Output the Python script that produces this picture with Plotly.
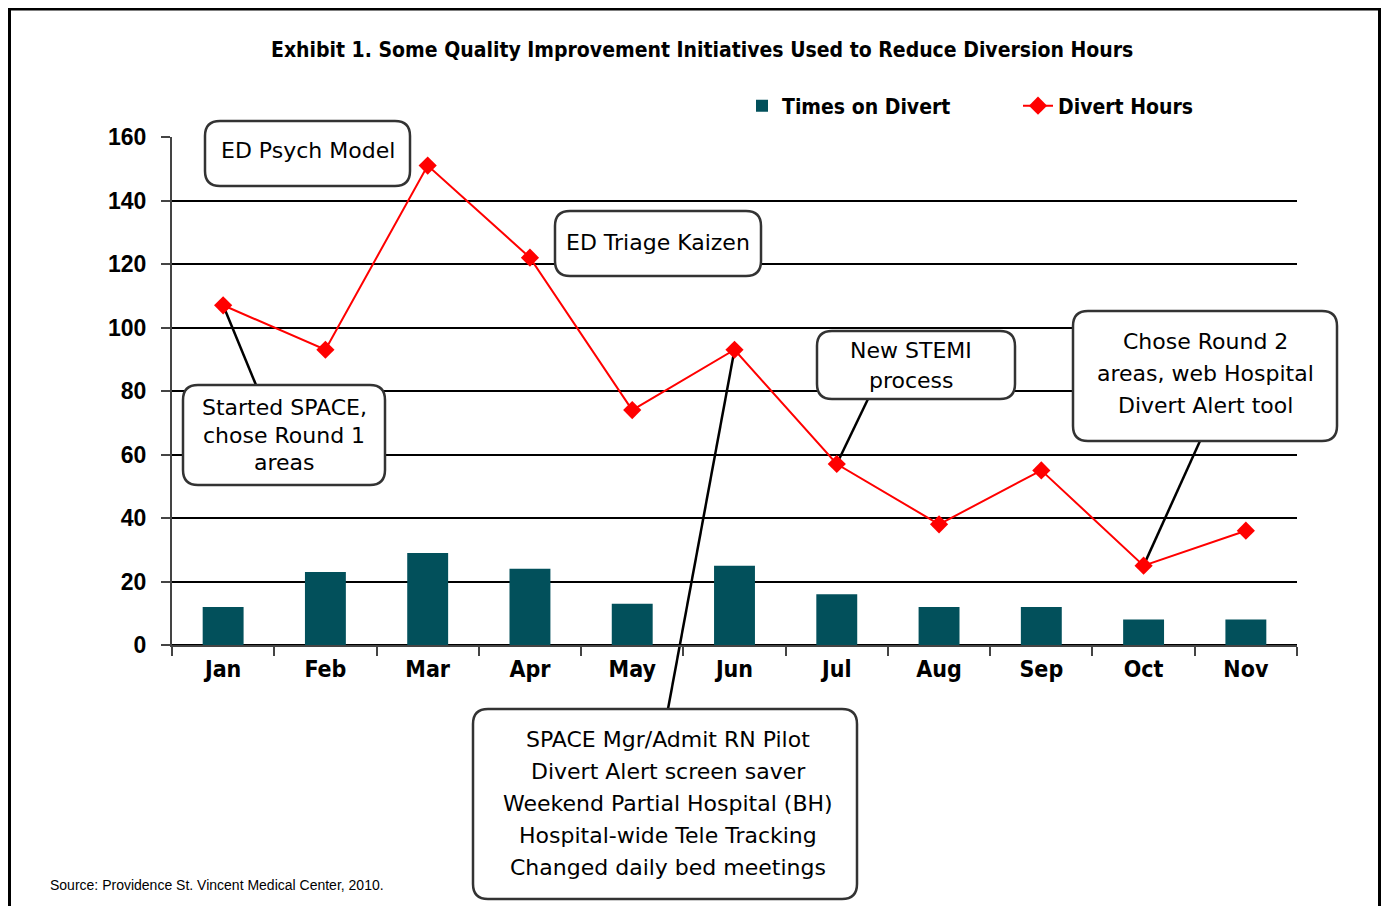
import plotly.graph_objects as go

months = ["Jan", "Feb", "Mar", "Apr", "May", "Jun", "Jul", "Aug", "Sep", "Oct", "Nov"]
times_on_divert = [12, 23, 29, 24, 13, 25, 16, 12, 12, 8, 8]
divert_hours = [107, 93, 151, 122, 74, 93, 57, 38, 55, 25, 36]
y_ticks = [0, 20, 40, 60, 80, 100, 120, 140, 160]

title_text = "Exhibit 1. Some Quality Improvement Initiatives Used to Reduce Diversion Hours"
source_text = "Source: Providence St. Vincent Medical Center, 2010."

OFF = 8  # default page margin of the html body
W, H = 1390 - 2 * OFF, 914 - 2 * OFF
L, R, T, B = 172, 1297, 137, 645  # screen pixel positions of plot area
YMAX = 160
COND = "DejaVu Sans Condensed"


def px(x):
    return (x - L) / (R - L)


def py(y):
    return (B - y) / (B - T)


def data_pt(i, v):
    return (i + 0.5) / len(months), v / YMAX


callouts = [
    (["ED Psych Model"], (205, 121, 410, 186), 308, [151], None, None),
    (["ED Triage Kaizen"], (555, 211, 761, 276), 658, [242], None, None),
    (["Started SPACE,", "chose Round 1", "areas"], (183, 385, 385, 485), 284, [407, 435, 462], 0, (256, 385)),
    (["New STEMI", "process"], (817, 331, 1015, 399), 911, [350, 380], 6, (868, 399)),
    (["Chose Round 2", "areas, web Hospital", "Divert Alert tool"], (1073, 311, 1337, 441), 1205, [341, 373, 405], 9, (1200, 441)),
    (["SPACE Mgr/Admit RN Pilot", "Divert Alert screen saver", "Weekend Partial Hospital (BH)",
      "Hospital-wide Tele Tracking", "Changed daily bed meetings"], (473, 709, 857, 899), 668,
     [739, 771, 803, 835, 867], 5, (668, 709)),
]

fig = go.Figure()
fig.add_trace(go.Bar(x=months, y=times_on_divert, name="Times on Divert",
                     marker=dict(color="#02505B", line=dict(width=0))))
fig.add_trace(go.Scatter(x=months, y=divert_hours, name="Divert Hours", mode="lines+markers",
                         line=dict(color="#FF0000", width=2),
                         marker=dict(symbol="diamond", size=14, color="#FF0000")))

shapes = []
annotations = []


def rounded(x0, y0, x1, y1, r=15):
    def P(x, y):
        return f"{px(x):.5f},{py(y):.5f}"
    return ("M " + P(x0 + r, y0) + " L " + P(x1 - r, y0) + " Q " + P(x1, y0) + " " + P(x1, y0 + r) +
            " L " + P(x1, y1 - r) + " Q " + P(x1, y1) + " " + P(x1 - r, y1) +
            " L " + P(x0 + r, y1) + " Q " + P(x0, y1) + " " + P(x0, y1 - r) +
            " L " + P(x0, y0 + r) + " Q " + P(x0, y0) + " " + P(x0 + r, y0) + " Z")


for lines, box, cx, ys, idx, attach in callouts:
    if idx is not None:
        mx, my = data_pt(idx, divert_hours[idx])
        shapes.append(dict(type="line", xref="paper", yref="paper", layer="below",
                           x0=mx, y0=my, x1=px(attach[0]), y1=py(attach[1]),
                           line=dict(color="black", width=2.5)))
    shapes.append(dict(type="path", xref="paper", yref="paper", layer="above",
                       path=rounded(*box), fillcolor="white",
                       line=dict(color="#333333", width=2.5)))
    for txt, yy in zip(lines, ys):
        annotations.append(dict(text=txt, xref="paper", yref="paper", x=px(cx), y=py(yy),
                                xanchor="center", yanchor="middle", showarrow=False,
                                font=dict(family="DejaVu Sans", size=22, color="black")))

shapes.append(dict(type="rect", xref="paper", yref="paper", layer="above",
                   x0=px(9.5), x1=px(1379.5), y0=py(930), y1=py(9),
                   line=dict(color="black", width=3), fillcolor="rgba(0,0,0,0)"))

annotations.append(dict(text="<b>" + title_text + "</b>", xref="paper", yref="paper",
                        x=px(702), y=py(50), xanchor="center", yanchor="middle", showarrow=False,
                        font=dict(family=COND, size=21, color="black")))
annotations.append(dict(text=source_text, xref="paper", yref="paper",
                        x=px(48), y=py(885), xanchor="left", yanchor="middle", showarrow=False,
                        font=dict(family="Liberation Sans", size=14, color="black")))

fig.update_layout(
    width=W, height=H,
    margin=dict(l=L - OFF, r=W - (R - OFF), t=T - OFF, b=H - (B - OFF), autoexpand=False),
    paper_bgcolor="white", plot_bgcolor="rgba(0,0,0,0)",
    bargap=0.6,
    showlegend=True,
    legend=dict(orientation="h", x=px(742), y=py(106), xanchor="left", yanchor="middle",
                entrywidth=231, entrywidthmode="pixels",
                font=dict(family=COND, size=21, color="black", weight="bold"),
                bgcolor="rgba(0,0,0,0)"),
    shapes=shapes, annotations=annotations,
    xaxis=dict(type="category", categoryorder="array", categoryarray=months,
               range=[-0.5, len(months) - 0.5],
               showline=True, linecolor="#444444", linewidth=2,
               ticks="outside", tickson="boundaries", ticklen=9, tickcolor="#444444", tickwidth=2,
               tickfont=dict(family=COND, size=23, color="black", weight="bold"),
               showgrid=False, ticklabelstandoff=2),
    yaxis=dict(range=[0, YMAX], tickvals=y_ticks, showline=True, linecolor="#444444", linewidth=2,
               ticks="outside", ticklen=9, tickcolor="#444444", tickwidth=2,
               showgrid=True, gridcolor="black", gridwidth=1.5,
               zeroline=True, zerolinecolor="black", zerolinewidth=1.5,
               tickfont=dict(family="Liberation Sans", size=23, color="black", weight="bold"),
               ticklabelstandoff=10),
)

fig.write_html("out.html")
